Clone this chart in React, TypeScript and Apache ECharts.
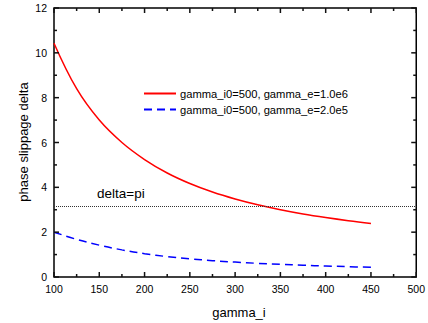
import React, { useEffect, useRef } from "react";
import * as echarts from "echarts";

const gammaI = [100, 125, 150, 175, 200, 225, 250, 275, 300, 325, 350, 375, 400, 425, 450];
const deltaE1 = [10.43, 8.4, 7.0, 6.0, 5.24, 4.64, 4.17, 3.79, 3.48, 3.22, 3.0, 2.81, 2.65, 2.51, 2.39];
const deltaE2 = [2.0, 1.68, 1.42, 1.21, 1.04, 0.91, 0.81, 0.73, 0.665, 0.61, 0.565, 0.525, 0.49, 0.46, 0.43];
const seriesNames = ["gamma_i0=500, gamma_e=1.0e6", "gamma_i0=500, gamma_e=2.0e5"];
const piLevel = Math.PI;
const xTicks = { min: 100, max: 500, interval: 50 };
const yTicks = { min: 0, max: 12, interval: 2 };
const xMajorTicks = [100, 150, 200, 250, 300, 350, 400, 450, 500];
const xMinorTicks = [125, 175, 225, 275, 325, 375, 425, 475];
const yMajorTicks = [0, 2, 4, 6, 8, 10, 12];
const yMinorTicks = [1, 3, 5, 7, 9, 11];

const FONT = "Liberation Sans, Arial, sans-serif";
const MAJOR = 5;
const MINOR = 3;
const TICK_STYLE = { stroke: "#111", lineWidth: 1.5 };

function xTickItem(params: any, api: any) {
  const v = api.value(0);
  const len = api.value(1);
  const b = api.coord([v, yTicks.min]);
  const t = api.coord([v, yTicks.max]);
  return {
    type: "group",
    children: [
      { type: "line", shape: { x1: b[0], y1: b[1], x2: b[0], y2: b[1] - len }, style: TICK_STYLE },
      { type: "line", shape: { x1: t[0], y1: t[1], x2: t[0], y2: t[1] + len }, style: TICK_STYLE },
    ],
  };
}

function yTickItem(params: any, api: any) {
  const len = api.value(0);
  const v = api.value(1);
  const l = api.coord([xTicks.min, v]);
  const r = api.coord([xTicks.max, v]);
  return {
    type: "group",
    children: [
      { type: "line", shape: { x1: l[0], y1: l[1], x2: l[0] + len, y2: l[1] }, style: TICK_STYLE },
      { type: "line", shape: { x1: r[0], y1: r[1], x2: r[0] - len, y2: r[1] }, style: TICK_STYLE },
    ],
  };
}

export default function App() {
  const ref = useRef<HTMLDivElement>(null);
  useEffect(() => {
    if (!ref.current) return;
    const chart = echarts.init(ref.current, null, { renderer: "svg" });
    const xTickData = [
      ...xMajorTicks.map((v) => [v, MAJOR]),
      ...xMinorTicks.map((v) => [v, MINOR]),
    ];
    const yTickData = [
      ...yMajorTicks.map((v) => [MAJOR, v]),
      ...yMinorTicks.map((v) => [MINOR, v]),
    ];
    chart.setOption({
      animation: false,
      textStyle: { fontFamily: FONT },
      grid: {
        left: 54, right: 5, top: 8, bottom: 46, containLabel: false,
        show: true, borderColor: "#000", borderWidth: 1.5, backgroundColor: "transparent",
      },
      legend: {
        orient: "vertical",
        left: 138,
        top: 83,
        itemWidth: 32,
        itemHeight: 10,
        itemGap: 5,
        itemStyle: { opacity: 0 },
        data: seriesNames,
        textStyle: { fontFamily: FONT, fontSize: 11.2, color: "#000", padding: [0, 0, 0, -1] },
      },
      xAxis: {
        type: "value",
        ...xTicks,
        axisLine: { show: false },
        axisTick: { show: false },
        splitLine: { show: false },
        axisLabel: { color: "#000", fontSize: 10.5, fontFamily: FONT, margin: 6 },
      },
      yAxis: {
        type: "value",
        ...yTicks,
        axisLine: { show: false },
        axisTick: { show: false },
        splitLine: { show: false },
        axisLabel: { color: "#000", fontSize: 10.5, fontFamily: FONT, margin: 7 },
      },
      graphic: [
        {
          type: "text",
          x: 23,
          y: 142,
          rotation: Math.PI / 2,
          style: {
            text: "phase slippage delta",
            fontSize: 13,
            fontFamily: FONT,
            fill: "#000",
            align: "center",
            verticalAlign: "middle",
          },
        },
        {
          type: "text",
          x: 239,
          y: 312,
          style: {
            text: "gamma_i",
            fontSize: 13,
            fontFamily: FONT,
            fill: "#000",
            align: "center",
            verticalAlign: "middle",
          },
        },
      ],
      series: [
        {
          name: seriesNames[0],
          type: "line",
          data: gammaI.map((x, i) => [x, deltaE1[i]]),
          smooth: 0.4,
          symbol: "none",
          lineStyle: { color: "#ff0000", width: 1.5 },
          itemStyle: { color: "#ff0000" },
          markLine: {
            silent: true,
            symbol: "none",
            data: [{ yAxis: piLevel }],
            lineStyle: { color: "#333", type: [1, 1], width: 1 },
            label: {
              show: true,
              position: "insideStartTop",
              formatter: "delta=pi",
              color: "#000",
              fontSize: 13.5,
              fontFamily: FONT,
              distance: [43, 6],
            },
          },
        },
        {
          name: seriesNames[1],
          type: "line",
          data: gammaI.map((x, i) => [x, deltaE2[i]]),
          smooth: 0.4,
          symbol: "none",
          lineStyle: { color: "#0000ff", width: 1.5, type: [8, 5] },
          itemStyle: { color: "#0000ff" },
        },
        {
          name: "xticks",
          type: "custom",
          silent: true,
          clip: false,
          z: 5,
          renderItem: xTickItem,
          data: xTickData,
          encode: { x: 0, y: 1 },
        },
        {
          name: "yticks",
          type: "custom",
          silent: true,
          clip: false,
          z: 5,
          renderItem: yTickItem,
          data: yTickData,
          encode: { x: 0, y: 1 },
        },
      ],
    });
    return () => chart.dispose();
  }, []);
  return <div ref={ref} style={{ width: 428, height: 323, position: "absolute", left: 0, top: 0 }} />;
}
